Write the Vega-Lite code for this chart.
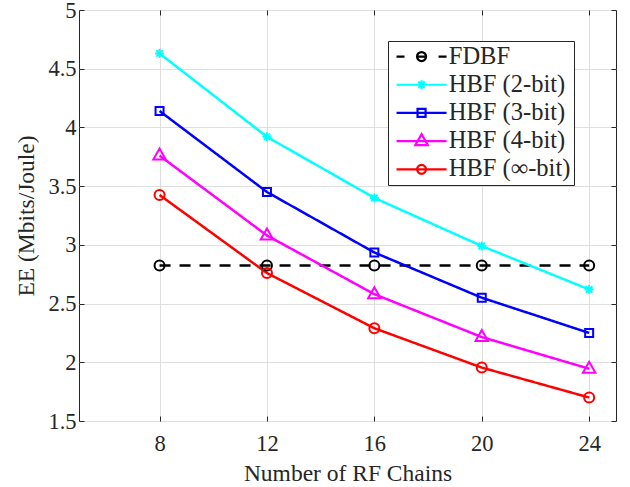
{
  "$schema": "https://vega.github.io/schema/vega-lite/v6.json",
  "width": 537,
  "height": 411,
  "autosize": {"type": "none"},
  "padding": {"left": 79, "top": 10, "right": 14, "bottom": 66},
  "background": "white",
  "config": {
    "font": "Liberation Serif",
    "view": {"stroke": "#262626", "strokeWidth": 1},
    "axis": {
      "domain": false,
      "tickColor": "#262626",
      "tickSize": -5,
      "tickWidth": 1,
      "gridColor": "#dfdfdf",
      "gridWidth": 1,
      "labelColor": "#262626",
      "labelFont": "Liberation Serif",
      "labelFontSize": 22.5,
      "titleColor": "#262626",
      "titleFont": "Liberation Serif",
      "titleFontSize": 23.5,
      "titleFontWeight": "normal"
    },
    "legend": {
      "orient": "none",
      "legendX": 309,
      "legendY": 31,
      "padding": 3.3,
      "strokeColor": "#262626",
      "fillColor": "white",
      "labelFont": "Liberation Serif",
      "labelFontSize": 24.5,
      "labelColor": "#262626",
      "symbolSize": 100,
      "symbolStrokeWidth": 2.2,
      "rowPadding": 3.2,
      "symbolOffset": 18,
      "labelOffset": 15
    }
  },
  "datasets": {
    "d": [
      {"series": "FDBF", "rf": 8, "ee": 2.825},
      {"series": "FDBF", "rf": 12, "ee": 2.825},
      {"series": "FDBF", "rf": 16, "ee": 2.825},
      {"series": "FDBF", "rf": 20, "ee": 2.825},
      {"series": "FDBF", "rf": 24, "ee": 2.825},
      {"series": "HBF (2-bit)", "rf": 8, "ee": 4.63},
      {"series": "HBF (2-bit)", "rf": 12, "ee": 3.92},
      {"series": "HBF (2-bit)", "rf": 16, "ee": 3.40},
      {"series": "HBF (2-bit)", "rf": 20, "ee": 2.99},
      {"series": "HBF (2-bit)", "rf": 24, "ee": 2.62},
      {"series": "HBF (3-bit)", "rf": 8, "ee": 4.14},
      {"series": "HBF (3-bit)", "rf": 12, "ee": 3.45},
      {"series": "HBF (3-bit)", "rf": 16, "ee": 2.935},
      {"series": "HBF (3-bit)", "rf": 20, "ee": 2.55},
      {"series": "HBF (3-bit)", "rf": 24, "ee": 2.25},
      {"series": "HBF (4-bit)", "rf": 8, "ee": 3.76},
      {"series": "HBF (4-bit)", "rf": 12, "ee": 3.08},
      {"series": "HBF (4-bit)", "rf": 16, "ee": 2.58},
      {"series": "HBF (4-bit)", "rf": 20, "ee": 2.215},
      {"series": "HBF (4-bit)", "rf": 24, "ee": 1.945},
      {"series": "HBF (∞-bit)", "rf": 8, "ee": 3.425},
      {"series": "HBF (∞-bit)", "rf": 12, "ee": 2.76},
      {"series": "HBF (∞-bit)", "rf": 16, "ee": 2.29},
      {"series": "HBF (∞-bit)", "rf": 20, "ee": 1.955},
      {"series": "HBF (∞-bit)", "rf": 24, "ee": 1.70}
    ]
  },
  "data": {"name": "d"},
  "layer": [
    {
      "mark": {"type": "line", "strokeWidth": 2.5},
      "encoding": {
        "x": {
          "field": "rf", "type": "quantitative",
          "scale": {"domain": [5, 25], "nice": false, "zero": false},
          "axis": {
            "orient": "bottom",
            "values": [8, 12, 16, 20, 24],
            "grid": true,
            "labelPadding": 16,
            "title": "Number of RF Chains",
            "titleBaseline": "alphabetic",
            "titleY": 59
          }
        },
        "y": {
          "field": "ee", "type": "quantitative",
          "scale": {"domain": [1.5, 5], "nice": false, "zero": false},
          "axis": {
            "orient": "left",
            "values": [1.5, 2, 2.5, 3, 3.5, 4, 4.5, 5],
            "format": "~g",
            "grid": true,
            "labelPadding": 8,
            "title": "EE (Mbits/Joule)",
            "titleBaseline": "alphabetic",
            "titleX": -46,
            "titleY": 205.5
          }
        },
        "color": {
          "field": "series", "type": "nominal",
          "scale": {
            "domain": ["FDBF", "HBF (2-bit)", "HBF (3-bit)", "HBF (4-bit)", "HBF (∞-bit)"],
            "range": ["#000000", "#00ffff", "#0000ff", "#ff00ff", "#ff0000"]
          },
          "legend": null
        },
        "strokeDash": {
          "field": "series", "type": "nominal",
          "scale": {
            "domain": ["FDBF", "HBF (2-bit)", "HBF (3-bit)", "HBF (4-bit)", "HBF (∞-bit)"],
            "range": [[11, 9], [1, 0], [1, 0], [1, 0], [1, 0]]
          },
          "legend": null
        }
      }
    },
    {
      "mark": {"type": "point", "filled": false, "strokeWidth": 2, "size": 100, "opacity": 1},
      "encoding": {
        "x": {
          "field": "rf", "type": "quantitative",
          "axis": {"orient": "top", "values": [8, 12, 16, 20, 24], "labels": false, "grid": false, "title": null}
        },
        "y": {
          "field": "ee", "type": "quantitative",
          "axis": {"orient": "right", "values": [1.5, 2, 2.5, 3, 3.5, 4, 4.5, 5], "labels": false, "grid": false, "title": null}
        },
        "color": {"field": "series", "type": "nominal", "legend": null},
        "shape": {
          "field": "series", "type": "nominal",
          "scale": {
            "domain": ["FDBF", "HBF (2-bit)", "HBF (3-bit)", "HBF (4-bit)", "HBF (∞-bit)"],
            "range": [
              "circle",
              "M0,-0.9L0,0.9M-0.9,0L0.9,0M-0.64,-0.64L0.64,0.64M-0.64,0.64L0.64,-0.64",
              "M-0.8,-0.8L0.8,-0.8L0.8,0.8L-0.8,0.8Z",
              "M0,-1.4L1.25,0.8L-1.25,0.8Z",
              "circle"
            ]
          },
          "legend": null
        }
      }
    },
    {
      "transform": [{"filter": "false"}],
      "mark": {
        "type": "point",
        "filled": false,
        "strokeWidth": 2.2,
        "opacity": 1,
        "stroke": {"expr": "datum.value === 'FDBF' ? '#000000' : datum.value === 'HBF (2-bit)' ? '#00ffff' : datum.value === 'HBF (3-bit)' ? '#0000ff' : datum.value === 'HBF (4-bit)' ? '#ff00ff' : '#ff0000'"}
      },
      "encoding": {
        "x": {"field": "rf", "type": "quantitative", "axis": null},
        "y": {"field": "ee", "type": "quantitative", "axis": null},
        "shape": {
          "field": "series", "type": "nominal",
          "scale": {
            "domain": ["FDBF", "HBF (2-bit)", "HBF (3-bit)", "HBF (4-bit)", "HBF (∞-bit)"],
            "range": [
              "M-5,0L-3.4,0M-0.9,0L0.9,0M3.4,0L5,0M-0.9,0A0.9,0.9,0,1,1,0.9,0A0.9,0.9,0,1,1,-0.9,0",
              "M-5,0L5,0M0,-0.9L0,0.9M-0.64,-0.64L0.64,0.64M-0.64,0.64L0.64,-0.64",
              "M-5,0L5,0M-0.8,-0.8L0.8,-0.8L0.8,0.8L-0.8,0.8Z",
              "M-5,0L5,0M0,-1.4L1.25,0.8L-1.25,0.8Z",
              "M-5,0L5,0M-0.9,0A0.9,0.9,0,1,1,0.9,0A0.9,0.9,0,1,1,-0.9,0"
            ]
          },
          "legend": {"title": null}
        }
      }
    }
  ],
  "resolve": {
    "scale": {"shape": "independent"},
    "axis": {"x": "independent", "y": "independent"}
  }
}
